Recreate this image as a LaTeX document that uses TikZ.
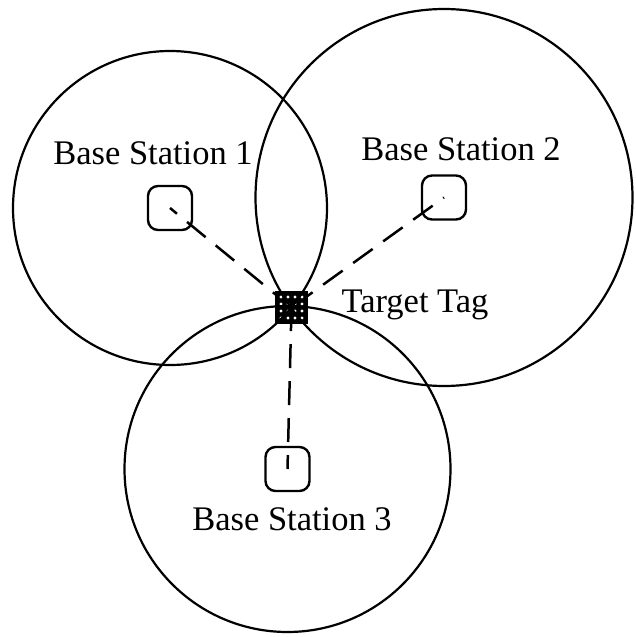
\documentclass[tikz,border=0pt]{standalone}
\usepackage{fontspec}
\setmainfont{Liberation Serif}
\usetikzlibrary{backgrounds}
\begin{document}
\begin{tikzpicture}[x=1pt,y=-1pt,
  ring/.style={draw=black,line width=2.2pt},
  station/.style={draw=black,line width=2.4pt,rounded corners=10pt,minimum size=44pt,inner sep=0pt},
  tagbox/.style={fill=black,minimum size=33pt,inner sep=0pt},
  conn/.style={draw=black,line width=2.5pt,dash pattern=on 24pt off 13pt},
  lbl/.style={font=\fontsize{34.5}{40}\selectfont,inner sep=0pt,anchor=base}]
\useasboundingbox (0,0) rectangle (635,637);
% stations
\node[station] (bs1) at (170,208) {};
\node[station] (bs2) at (444,197.5) {};
\node[station] (bs3) at (287.5,469) {};
% target tag
\node[tagbox] (tag) at (291.5,307.5) {};
\foreach \i in {-1.5,-0.5,0.5,1.5}
  \foreach \j in {-1.5,-0.5,0.5,1.5}
    \fill[white] ([shift={(\i*7pt,\j*7pt)}]tag.center) circle[radius=1.6pt];
% circles
\draw[ring] (bs1.center) circle[radius=157pt];
\draw[ring] (bs2.center) circle[radius=188.5pt];
\draw[ring] (bs3.center) circle[radius=163pt];
% connectors
\begin{pgfonlayer}{background}
\draw[conn,dash phase=15pt] (bs1.center) -- (tag.center);
\draw[conn,dash phase=23pt] (bs2.center) -- (tag.center);
\draw[conn,dash phase=10pt] (bs3.center) -- (tag.center);
\end{pgfonlayer}
% labels
\node[lbl] (l1) at (153,164) {Base Station 1};
\node[lbl] (l2) at (461,160.5) {Base Station 2};
\node[lbl] (lt) at (415,312) {Target Tag};
\node[lbl] (l3) at (292,530) {Base Station 3};
\end{tikzpicture}
\end{document}
